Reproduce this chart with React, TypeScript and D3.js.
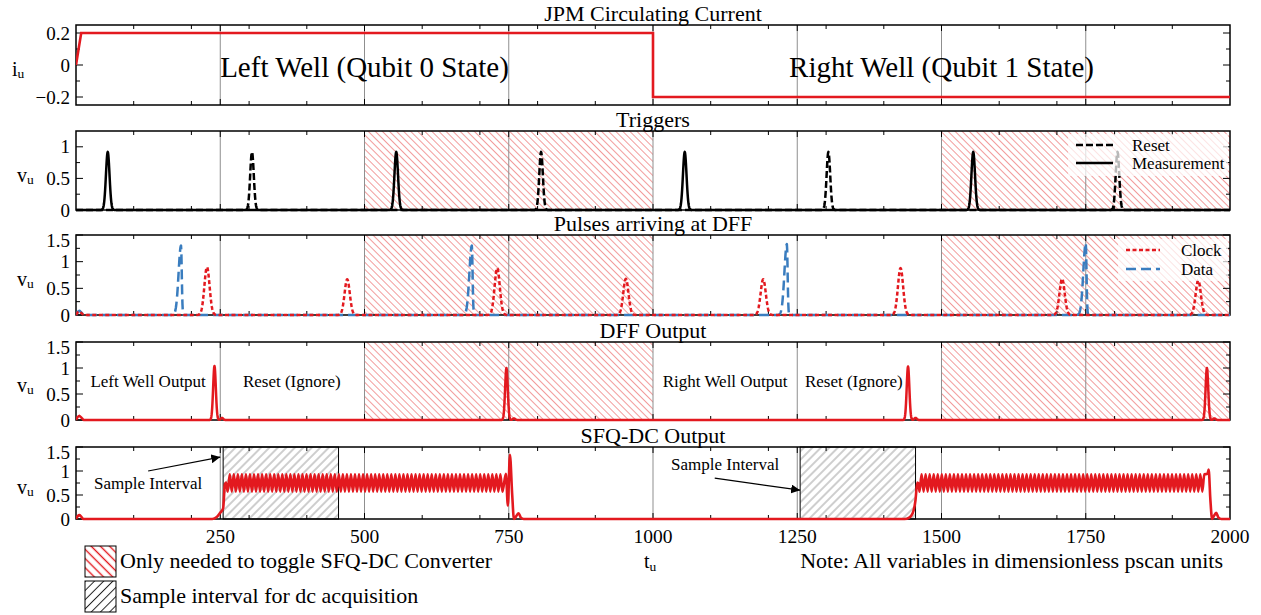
import React from "react";
import * as d3 from "d3";

const FONT = "'Liberation Serif', 'Times New Roman', Times, serif";
const RED = "#e3191f";
const BLUE = "#3a7dbf";
const GRID = "#8f8f8f";

// time axis (dimensionless pscan units)
const T_MAX = 2000;
const T_LABELS = [250, 500, 750, 1000, 1250, 1500, 1750, 2000];
const T_GRID = [250, 500, 750, 1000, 1250, 1500, 1750];
const T_MINOR = [100, 200, 300, 400, 600, 700, 800, 900, 1100, 1200, 1300, 1400, 1600, 1700, 1800, 1900];

// JPM circulating current
const jpmT = [0, 9, 1000, 1000, 2000];
const jpmI = [0, 0.2, 0.2, -0.2, -0.2];

// triggers
const measureT = [55, 555, 1055, 1555];
const measureV = [0.92, 0.92, 0.92, 0.92];
const resetT = [305, 806, 1304, 1805];
const resetV = [0.92, 0.92, 0.92, 0.92];

// pulses arriving at the DFF
const clockT = [227, 470, 730, 953, 1191, 1429, 1709, 1945];
const clockV = [0.9, 0.67, 0.88, 0.68, 0.67, 0.88, 0.68, 0.65];
const dataT = [182, 686, 1232, 1750];
const dataV = [1.3, 1.3, 1.33, 1.35];

// DFF output
const dffT = [240, 746, 1442, 1960];
const dffV = [1.04, 1.0, 1.03, 1.0];
const dffEchoT = [253, 759, 1455, 1973];
const dffEchoV = [0.04, 0.03, 0.04, 0.03];

// start-up ripple seen in the lower panels
const rippleT = [0, 3, 6, 9, 13];
const rippleClock = [0, 0.05, 0.07, 0.04, 0];
const rippleData = [0, 0.06, 0.08, 0.05, 0];
const rippleDff = [0, 0.06, 0.08, 0.05, 0];

// SFQ-DC output: transitions + oscillating bursts
const sfqT = [0, 3, 6, 9, 13, 236, 244, 250, 255, 258, 260, 745, 748.5, 752, 756, 759, 763, 767, 771, 776,
  1436, 1444, 1450, 1455, 1458, 1460, 1961, 1963, 1966, 1969, 1972, 1976, 1980, 1985, 2000];
const sfqV = [0, 0.06, 0.08, 0.05, 0, 0, 0.04, 0.13, 0.22, 0.72, 0.76, 0.94, 0.28, 1.34, 0.5, 0, 0.06, 0.12, 0.03, 0,
  0, 0.03, 0.12, 0.4, 0.76, 0.74, 0.94, 1.03, 0.4, 0, 0.06, 0.13, 0.03, 0, 0];
const burstStart = [263, 1462];
const burstEnd = [742, 1958];
const burstLow = 0.57;
const burstHigh = 0.93;
const burstPeriod = 7;

// shaded intervals
const toggleFrom = [500, 1500];
const toggleTo = [1000, 2000];
const sampleFrom = [255, 1255];
const sampleTo = [455, 1455];

// annotations in the SFQ-DC panel
const noteTextT = [125, 1125];
const noteTextV = [0.62, 1.02];
const noteTailT = [125, 1107];
const noteTailV = [1.0, 0.85];
const noteTipT = [250, 1255];
const noteTipV = [1.29, 0.6];

const X0 = 76, X1 = 1230;

type Panel = {
  top: number; bottom: number; domain: [number, number];
  major: number[]; minor: number[]; title: string; ylab: string;
};

const panels: Panel[] = [
  { top: 25, bottom: 105, domain: [-0.25, 0.25], major: [-0.2, 0, 0.2], minor: [-0.1, 0.1], title: "JPM Circulating Current", ylab: "i" },
  { top: 131, bottom: 210, domain: [0, 1.25], major: [0, 0.5, 1], minor: [0.25, 0.75], title: "Triggers", ylab: "v" },
  { top: 235, bottom: 315, domain: [0, 1.5], major: [0, 0.5, 1, 1.5], minor: [0.25, 0.75, 1.25], title: "Pulses arriving at DFF", ylab: "v" },
  { top: 342, bottom: 420, domain: [0, 1.5], major: [0, 0.5, 1, 1.5], minor: [0.25, 0.75, 1.25], title: "DFF Output", ylab: "v" },
  { top: 447, bottom: 519, domain: [0, 1.5], major: [0, 0.5, 1, 1.5], minor: [0.25, 0.75, 1.25], title: "SFQ-DC Output", ylab: "v" },
];

const grid = d3.range(0, T_MAX + 0.25, 0.5);
const gauss = (t: number, c: number, s: number) => Math.exp(-0.5 * ((t - c) / s) ** 2);

function pulseTrain(times: number[], heights: number[], sL: number, sR: number, ripple?: number[],
  echoT?: number[], echoV?: number[]): [number, number][] {
  const rip = ripple ? d3.scaleLinear().domain(rippleT).range(ripple).clamp(true) : null;
  return grid.map((t) => {
    let v = rip ? rip(t) : 0;
    times.forEach((c, i) => {
      if (Math.abs(t - c) < 30) v += heights[i] * gauss(t, c, t < c ? sL : sR);
    });
    if (echoT && echoV) echoT.forEach((c, i) => { if (Math.abs(t - c) < 15) v += echoV[i] * gauss(t, c, 2.2); });
    return [t, v];
  });
}

const fmt = (d: number) => (d < 0 ? "\u2212" + Math.abs(d) : String(d));

export default function App() {
  const x = d3.scaleLinear().domain([0, T_MAX]).range([X0, X1]);
  const ys = panels.map((p) => d3.scaleLinear().domain(p.domain).range([p.bottom, p.top]));
  const lineOf = (y: d3.ScaleLinear<number, number>, curve = d3.curveLinear) =>
    d3.line<[number, number]>().x((d) => x(d[0])).y((d) => y(d[1])).curve(curve);

  const jpm: [number, number][] = jpmT.map((t, i) => [t, jpmI[i]]);
  const measure = pulseTrain(measureT, measureV, 3.1, 3.1);
  const reset = pulseTrain(resetT, resetV, 3.1, 3.1);
  const clock = pulseTrain(clockT, clockV, 4.5, 4.5, rippleClock);
  const data = pulseTrain(dataT, dataV, 4.2, 1.3, rippleData);
  const dff = pulseTrain(dffT, dffV, 2.3, 2.3, rippleDff, dffEchoT, dffEchoV);

  const burstPts: [number, number][] = burstStart.flatMap((s, k) =>
    d3.range(s, burstEnd[k], burstPeriod / 2).map((t, j) => [t, j % 2 === 0 ? burstLow : burstHigh] as [number, number]));
  const sfq: [number, number][] = sfqT.map((t, i) => [t, sfqV[i]] as [number, number])
    .concat(burstPts).sort((a, b) => a[0] - b[0]);

  const hatchRegions = (y: d3.ScaleLinear<number, number>, from: number[], to: number[], fill: string, stroke?: string) =>
    from.map((f, i) => (
      <rect key={i} x={x(f)} y={y.range()[1]} width={x(to[i]) - x(f)} height={y.range()[0] - y.range()[1]}
        fill={fill} stroke={stroke || "none"} strokeWidth={1} />
    ));

  const content = [
    // 0: JPM current
    (y: d3.ScaleLinear<number, number>) => (
      <g>
        <text x={x(500)} y={77} fontSize={29} textAnchor="middle">Left Well (Qubit 0 State)</text>
        <text x={x(1500)} y={77} fontSize={29} textAnchor="middle">Right Well (Qubit 1 State)</text>
        <path d={lineOf(y)(jpm) || ""} fill="none" stroke={RED} strokeWidth={2.6} />
      </g>
    ),
    // 1: triggers
    (y: d3.ScaleLinear<number, number>) => (
      <g strokeLinejoin="round">
        <path d={lineOf(y)(measure) || ""} fill="none" stroke="#000" strokeWidth={2.5} />
        <path d={lineOf(y)(reset) || ""} fill="none" stroke="#000" strokeWidth={2.5} strokeDasharray="7,3" />
        <rect x={1068} y={134} width={160} height={42} fill="#fff" opacity={0.72} />
        <line x1={1076} x2={1113} y1={145} y2={145} stroke="#000" strokeWidth={2.5} strokeDasharray="7,3" />
        <line x1={1076} x2={1113} y1={163} y2={163} stroke="#000" strokeWidth={2.5} />
        <text x={1132} y={151} fontSize={17}>Reset</text>
        <text x={1132} y={169} fontSize={17}>Measurement</text>
      </g>
    ),
    // 2: pulses at DFF
    (y: d3.ScaleLinear<number, number>) => (
      <g strokeLinejoin="round">
        <path d={lineOf(y)(data) || ""} fill="none" stroke={BLUE} strokeWidth={2.5} strokeDasharray="10,5" />
        <path d={lineOf(y)(clock) || ""} fill="none" stroke={RED} strokeWidth={2.5} strokeDasharray="4,2.5" />
        <rect x={1118} y={239} width={110} height={42} fill="#fff" opacity={0.72} />
        <line x1={1126} x2={1160} y1={250} y2={250} stroke={RED} strokeWidth={2.5} strokeDasharray="4,2.5" />
        <line x1={1126} x2={1160} y1={269} y2={269} stroke={BLUE} strokeWidth={2.5} strokeDasharray="10,5" />
        <text x={1181} y={256} fontSize={17}>Clock</text>
        <text x={1181} y={275} fontSize={17}>Data</text>
      </g>
    ),
    // 3: DFF output
    (y: d3.ScaleLinear<number, number>) => (
      <g strokeLinejoin="round">
        <text x={x(125)} y={387} fontSize={17} textAnchor="middle">Left Well Output</text>
        <text x={x(374)} y={387} fontSize={17} textAnchor="middle">Reset (Ignore)</text>
        <text x={x(1125)} y={387} fontSize={17} textAnchor="middle">Right Well Output</text>
        <text x={x(1348)} y={387} fontSize={17} textAnchor="middle">Reset (Ignore)</text>
        <path d={lineOf(y)(dff) || ""} fill="none" stroke={RED} strokeWidth={2.5} />
      </g>
    ),
    // 4: SFQ-DC output
    (y: d3.ScaleLinear<number, number>) => (
      <g strokeLinejoin="round">
        <path d={lineOf(y, d3.curveMonotoneX)(sfq) || ""} fill="none" stroke={RED} strokeWidth={2.6} />
        {noteTextT.map((t, i) => (
          <g key={i}>
            <text x={x(t)} y={y(noteTextV[i])} fontSize={17} textAnchor="middle">Sample Interval</text>
            <line x1={x(noteTailT[i])} y1={y(noteTailV[i])} x2={x(noteTipT[i])} y2={y(noteTipV[i])}
              stroke="#000" strokeWidth={1.2} markerEnd="url(#arrow)" />
          </g>
        ))}
      </g>
    ),
  ];

  return (
    <svg width={1261} height={615} fontFamily={FONT}
      style={{ position: "absolute", left: 0, top: 0, display: "block", background: "#fff" }}>
      <defs>
        <pattern id="hatchRed" patternUnits="userSpaceOnUse" width={5} height={5} patternTransform="rotate(-45)">
          <line x1={2.5} y1={-1} x2={2.5} y2={6} stroke="#f08a8a" strokeWidth={0.85} />
        </pattern>
        <pattern id="hatchGray" patternUnits="userSpaceOnUse" width={6} height={6} patternTransform="rotate(45)">
          <line x1={3} y1={-1} x2={3} y2={7} stroke="#8a8a8a" strokeWidth={0.85} />
        </pattern>
        <pattern id="hatchRedLeg" patternUnits="userSpaceOnUse" width={6.5} height={6.5} patternTransform="rotate(-45)">
          <line x1={3.25} y1={-1} x2={3.25} y2={8} stroke={RED} strokeWidth={1.4} />
        </pattern>
        <pattern id="hatchGrayLeg" patternUnits="userSpaceOnUse" width={6.5} height={6.5} patternTransform="rotate(45)">
          <line x1={3.25} y1={-1} x2={3.25} y2={8} stroke="#222" strokeWidth={1} />
        </pattern>
        <marker id="arrow" viewBox="0 0 10 10" refX={10} refY={5} markerWidth={9} markerHeight={9}
          markerUnits="userSpaceOnUse" orient="auto">
          <path d="M0,0 L10,5 L0,10 z" fill="#000" />
        </marker>
        {panels.map((p, i) => (
          <clipPath id={`clip${i}`} key={i}>
            <rect x={X0} y={p.top - 3} width={X1 - X0} height={p.bottom - p.top + 6} />
          </clipPath>
        ))}
      </defs>

      {panels.map((p, i) => {
        const y = ys[i];
        return (
          <g key={i}>
            <text x={(X0 + X1) / 2} y={p.top - 4} fontSize={22} textAnchor="middle">{p.title}</text>
            {(i >= 1 && i <= 3) && hatchRegions(y, toggleFrom, toggleTo, "url(#hatchRed)")}
            {i === 4 && hatchRegions(y, sampleFrom, sampleTo, "url(#hatchGray)", "#000")}
            {T_GRID.map((t) => (
              <line key={t} x1={x(t)} x2={x(t)} y1={p.top} y2={p.bottom} stroke={GRID} strokeWidth={1} />
            ))}
            {/* frame */}
            <rect x={X0} y={p.top} width={X1 - X0} height={p.bottom - p.top} fill="none" stroke="#000" strokeWidth={1.5} />
            {/* x ticks */}
            {T_MINOR.map((t) => (
              <g key={t} stroke="#000" strokeWidth={1}>
                <line x1={x(t)} x2={x(t)} y1={p.top} y2={p.top + 4} />
                <line x1={x(t)} x2={x(t)} y1={p.bottom} y2={p.bottom - 4} />
              </g>
            ))}
            {T_GRID.map((t) => (
              <g key={t} stroke="#000" strokeWidth={1}>
                <line x1={x(t)} x2={x(t)} y1={p.top} y2={p.top + 6} />
                <line x1={x(t)} x2={x(t)} y1={p.bottom} y2={p.bottom - 6} />
              </g>
            ))}
            {/* y ticks */}
            {p.major.map((v) => (
              <g key={v}>
                <line x1={X0} x2={X0 + 7} y1={y(v)} y2={y(v)} stroke="#000" strokeWidth={1} />
                <line x1={X1} x2={X1 - 7} y1={y(v)} y2={y(v)} stroke="#000" strokeWidth={1} />
                <text x={70} y={Math.max(y(v), p.top + 5)} dy="0.35em" fontSize={19} textAnchor="end">{fmt(v)}</text>
              </g>
            ))}
            {p.minor.map((v) => (
              <g key={v} stroke="#000" strokeWidth={1}>
                <line x1={X0} x2={X0 + 4} y1={y(v)} y2={y(v)} />
                <line x1={X1} x2={X1 - 4} y1={y(v)} y2={y(v)} />
              </g>
            ))}
            <text x={p.ylab === "i" ? 12 : 17} y={(p.top + p.bottom) / 2 + 11} fontSize={20}>
              {p.ylab}<tspan dy={2} fontSize={13.5}>u</tspan>
            </text>
            <g clipPath={`url(#clip${i})`}>{content[i](y)}</g>
          </g>
        );
      })}

      {/* time axis labels */}
      {T_LABELS.map((t) => (
        <text key={t} x={x(t)} y={543} fontSize={19.5} textAnchor="middle">{t}</text>
      ))}
      <text x={644} y={568} fontSize={20}>t<tspan dy={3} fontSize={13.5}>u</tspan></text>

      {/* bottom legend */}
      <rect x={85} y={546} width={31} height={31} fill="url(#hatchRedLeg)" stroke="#000" strokeWidth={1} />
      <text x={120} y={568} fontSize={22}>Only needed to toggle SFQ-DC Converter</text>
      <rect x={85} y={581} width={31} height={31} fill="url(#hatchGrayLeg)" stroke="#000" strokeWidth={1} />
      <text x={120} y={603} fontSize={22}>Sample interval for dc acquisition</text>
      <text x={1223} y={568} fontSize={22} textAnchor="end">Note: All variables in dimensionless pscan units</text>
    </svg>
  );
}
